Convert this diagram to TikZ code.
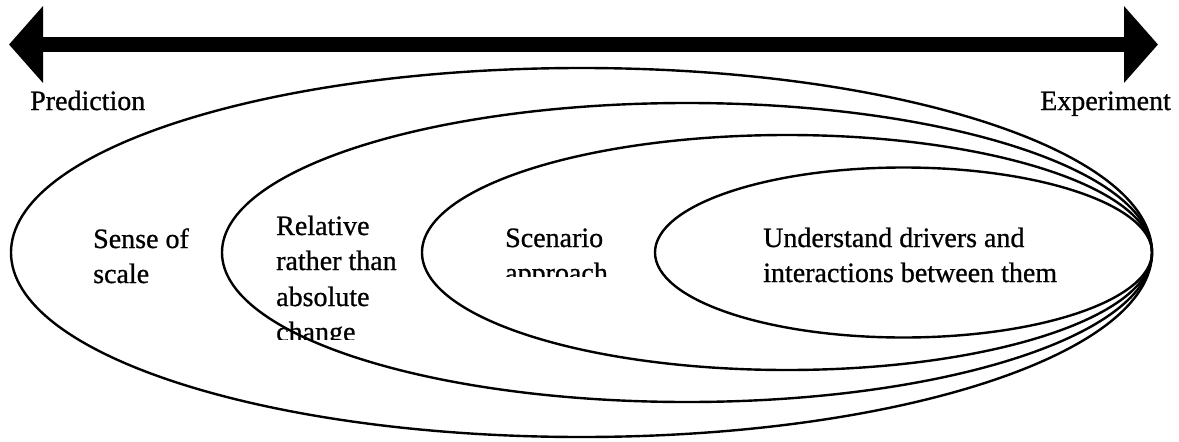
\documentclass[tikz,border=0pt]{standalone}
\usepackage{fontspec}
\setmainfont[FakeBold=0.8]{Liberation Serif}
\usetikzlibrary{arrows.meta}
\begin{document}
\begin{tikzpicture}[x=1pt,y=-1pt,
  lbl/.style={anchor=base west,inner sep=0pt,font=\fontsize{28}{35}\selectfont},
  ring/.style={line width=2.4pt,draw=black}]
\useasboundingbox (0,0) rectangle (1179,442);
% double arrow
\coordinate (pl) at (9,44.5);
\coordinate (pr) at (1158,44.5);
\draw[line width=15pt,{Triangle[length=34pt,width=75pt]}-{Triangle[length=34pt,width=75pt]}] (pl) -- (pr);
\node[lbl] (pred) at (30,110) {Prediction};
\node[lbl] (expt) at (1040,110) {Experiment};
% ellipses
\draw[ring] (581.5,252.5) ellipse [x radius=570.5, y radius=184.5];
\draw[ring] (687,252.5) ellipse [x radius=465, y radius=149.5];
\draw[ring] (787,252.5) ellipse [x radius=365, y radius=117.5];
\draw[ring] (903.5,252.5) ellipse [x radius=248.5, y radius=85];
% labels
\node[lbl] (s1) at (93,248) {Sense of};
\node[lbl] (s2) at (93,283) {scale};
\begin{scope}
\clip (260,190) rectangle (420,339.5);
\node[lbl] (r1) at (276,235) {Relative};
\node[lbl] (r2) at (276,270) {rather than};
\node[lbl] (r3) at (276,306) {absolute};
\node[lbl] (r4) at (276,341) {change};
\end{scope}
\begin{scope}
\clip (490,200) rectangle (640,276);
\node[lbl] (c1) at (505,247) {Scenario};
\node[lbl] (c2) at (505,282) {approach};
\end{scope}
\node[lbl] (u1) at (763,247) {Understand drivers and};
\node[lbl] (u2) at (763,282) {interactions between them};
\end{tikzpicture}
\end{document}
